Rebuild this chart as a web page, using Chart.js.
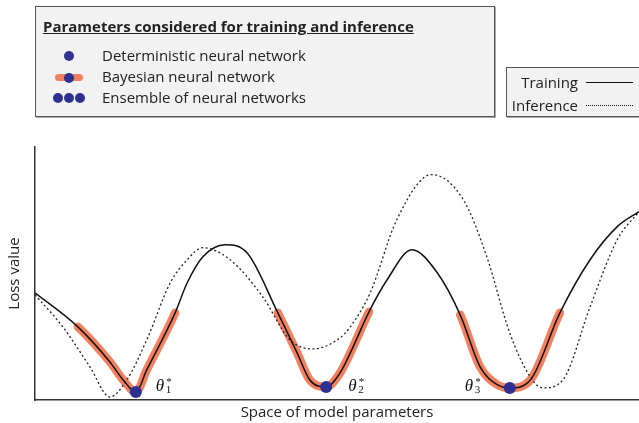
<!DOCTYPE html>
<html>
<head>
<meta charset="utf-8">
<script src="https://cdn.jsdelivr.net/npm/chart.js@4.4.0/dist/chart.umd.min.js"></script>
<style>
  body { margin: 0; background: #fff; font-family: "Open Sans", sans-serif; color: #222; }
  #wrap { position: relative; width: 639px; height: 423px; overflow: hidden; }
  #lossChart { position: absolute; left: 0; top: 0; }
  .box { position: absolute; background: #f1f2f1; border: 1px solid #555; box-sizing: border-box; box-shadow: 1px 1px 0 #aaa; }
  .txt { position: absolute; font-size: 15px; line-height: 20px; white-space: nowrap; }
  .dot { position: absolute; width: 10px; height: 10px; border-radius: 50%; background: #2e3192; }
  .bar { position: absolute; height: 7px; border-radius: 4px; background: #f3805f; }
  .ln { position: absolute; height: 0; }
</style>
</head>
<body>
<div id="wrap">
  <canvas id="lossChart" width="639" height="423"></canvas>

  <div class="box" style="left:35px; top:6px; width:460px; height:111px;">
    <div class="txt" style="left:7px; top:9px; font-weight:bold; text-decoration:underline;">Parameters considered for training and inference</div>
    <div class="dot" style="left:28px; top:44px;"></div>
    <div class="txt" style="left:66px; top:38px;">Deterministic neural network</div>
    <div class="bar" style="left:19px; top:67px; width:28px;"></div>
    <div class="dot" style="left:28px; top:66px;"></div>
    <div class="txt" style="left:66px; top:59px;">Bayesian neural network</div>
    <div class="dot" style="left:17px; top:86px;"></div>
    <div class="dot" style="left:28px; top:86px;"></div>
    <div class="dot" style="left:39px; top:86px;"></div>
    <div class="txt" style="left:66px; top:80px;">Ensemble of neural networks</div>
  </div>

  <div class="box" style="left:506px; top:67px; width:150px; height:50px;">
    <div class="txt" style="right:77px; top:4px;">Training</div>
    <div class="ln" style="left:79px; top:14px; width:47px; border-top:1.5px solid #111;"></div>
    <div class="txt" style="right:77px; top:27px;">Inference</div>
    <div class="ln" style="left:79px; top:37px; width:47px; border-top:1px dotted #111;"></div>
  </div>
</div>
<script>
  // loss curves (x: position in parameter space, y: loss)
  const trainX = [0, 0.71, 1.24, 1.46, 1.67, 1.85, 2.32, 2.52, 2.78, 3.15, 3.51, 4.02, 4.34, 4.55, 4.82, 5.05, 5.22, 5.53, 5.83, 6.24, 6.66, 7.04, 7.37, 7.66, 7.86, 8.2, 8.69, 9.19, 9.64, 10];
  const trainLoss = [4.28, 2.92, 1.52, 0.8, 0.32, 1.2, 3.48, 4.68, 5.72, 6.2, 5.88, 3.48, 1.88, 0.8, 0.52, 1.08, 1.88, 3.52, 4.8, 6.0, 5.08, 3.4, 1.32, 0.6, 0.48, 0.8, 3.48, 5.6, 6.92, 7.52];

  const inferX = [0, 0.46, 0.91, 1.24, 1.52, 1.85, 2.24, 2.52, 2.78, 3.23, 3.77, 4.22, 4.6, 5.05, 5.22, 5.55, 5.99, 6.57, 7.09, 7.48, 7.86, 8.2, 8.41, 8.74, 9.19, 9.64, 10];
  const inferLoss = [4.2, 2.92, 1.32, 0.12, 0.8, 2.4, 4.68, 5.6, 6.08, 5.6, 4.12, 2.4, 2.04, 2.48, 2.92, 4.28, 7.2, 9.0, 8.0, 5.72, 2.68, 0.92, 0.48, 0.8, 3.72, 6.4, 7.52];

  // minima found by training (theta_1*, theta_2*, theta_3*)
  const minimaX = [1.67, 4.82, 7.86];
  const minimaLoss = [0.32, 0.52, 0.48];
  const minimaNames = ['1', '2', '3'];

  // stretches of the training curve covered by the Bayesian posterior
  const bayesStart = [0.71, 4.02, 7.04];
  const bayesEnd = [2.32, 5.53, 8.69];

  const BLUE = '#2e3192';
  const ORANGE = '#f3805f';
  const FONT = '"Open Sans", sans-serif';

  const toPoints = (xs, ys) => xs.map((v, i) => ({ x: v, y: ys[i] }));

  function inBayes(a, b) {
    return bayesStart.some((s, i) => a >= s - 1e-9 && b <= bayesEnd[i] + 1e-9);
  }

  // theta labels next to each minimum
  const thetaOffsets = [20, 22, -45];
  const thetaPlugin = {
    id: 'thetaLabels',
    afterDatasetsDraw(chart) {
      const { ctx, scales: { x, y } } = chart;
      const base = y.getPixelForValue(y.min) - 9;
      ctx.save();
      ctx.fillStyle = '#111';
      ctx.textBaseline = 'alphabetic';
      minimaX.forEach((mx, i) => {
        const px = x.getPixelForValue(mx) + thetaOffsets[i];
        ctx.font = 'italic 17px "Liberation Serif"';
        ctx.fillText('θ', px, base);
        ctx.font = '11px "Liberation Serif"';
        ctx.fillText(minimaNames[i], px + 10, base + 2);
        ctx.fillText('*', px + 10.5, base - 6);
      });
      ctx.restore();
    }
  };

  const axisTitle = (text, padding) => ({
    display: true, text: text, color: '#222',
    font: { family: FONT, size: 15 }, padding: padding
  });

  new Chart(document.getElementById('lossChart'), {
    type: 'line',
    data: {
      datasets: [
        {
          type: 'scatter', data: toPoints(minimaX, minimaLoss),
          pointRadius: 6, pointBackgroundColor: BLUE, pointBorderWidth: 0, showLine: false
        },
        {
          data: toPoints(trainX, trainLoss), borderColor: '#111', borderWidth: 1.5,
          pointRadius: 0, cubicInterpolationMode: 'monotone'
        },
        {
          data: toPoints(inferX, inferLoss), borderColor: '#222', borderWidth: 1.3,
          borderDash: [2, 2.5], pointRadius: 0, cubicInterpolationMode: 'monotone'
        },
        {
          data: toPoints(trainX, trainLoss), borderWidth: 8.5, borderCapStyle: 'round',
          pointRadius: 0, cubicInterpolationMode: 'monotone',
          segment: { borderColor: c => inBayes(c.p0.parsed.x, c.p1.parsed.x) ? ORANGE : 'transparent' }
        }
      ]
    },
    options: {
      responsive: false,
      animation: false,
      devicePixelRatio: 1,
      layout: { autoPadding: false, padding: { left: 0, top: 147, right: 0, bottom: 0 } },
      plugins: { legend: { display: false }, tooltip: { enabled: false } },
      scales: {
        x: {
          type: 'linear', min: 0, max: 10,
          grid: { display: false, drawTicks: false },
          ticks: { display: false },
          border: { color: '#333', width: 1.5 },
          title: axisTitle('Space of model parameters', { top: 4, bottom: 1 })
        },
        y: {
          min: 0, max: 10.1,
          grid: { display: false, drawTicks: false },
          ticks: { display: false },
          border: { color: '#333', width: 1.5 },
          title: axisTitle('Loss value', { top: 6, bottom: 11 })
        }
      }
    },
    plugins: [thetaPlugin]
  });
</script>
</body>
</html>
